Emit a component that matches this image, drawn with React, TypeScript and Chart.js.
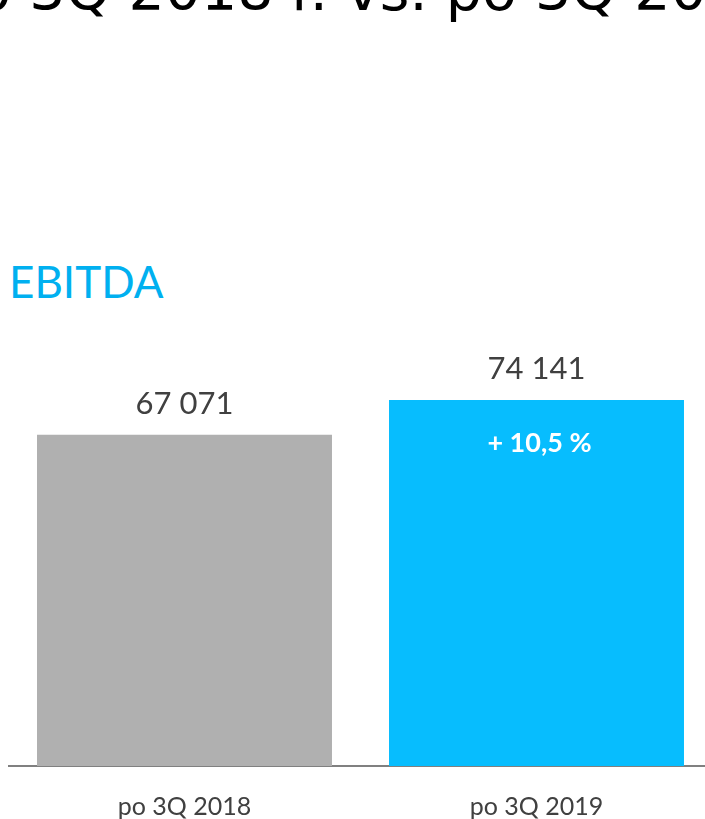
import React, { useEffect, useRef } from 'react';
import { Chart, registerables } from 'chart.js';

Chart.register(...registerables);

const categories = ['po 3Q 2018', 'po 3Q 2019'];
const values = [67071, 74141];
const barColors = ['#B0B0B0', '#07BDFE'];
const changeLabels = ['', '+ 10,5 %'];
const titleText = 'po 3Q 2018 r. vs. po 3Q 2019 r.';
const subtitleText = 'EBITDA';

const fmt = (v: number) => String(v).replace(/\B(?=(\d{3})+(?!\d))/g, ' ');

export default function App() {
  const ref = useRef<HTMLCanvasElement>(null);

  useEffect(() => {
    if (!ref.current) return;
    const labelPlugin = {
      id: 'barLabels',
      afterDatasetsDraw(chart: any) {
        const ctx = chart.ctx;
        const meta = chart.getDatasetMeta(0);
        meta.data.forEach((bar: any, i: number) => {
          ctx.save();
          ctx.textAlign = 'center';
          ctx.textBaseline = 'alphabetic';
          ctx.font = '31px Lato';
          ctx.fillStyle = '#404040';
          ctx.fillText(fmt(values[i]), bar.x, bar.y - 21);
          if (changeLabels[i]) {
            ctx.font = 'bold 27px Lato';
            ctx.fillStyle = '#FFFFFF';
            ctx.fillText(changeLabels[i], bar.x + 3, bar.y + 52);
          }
          ctx.restore();
        });
      },
    };

    const chart = new Chart(ref.current, {
      type: 'bar',
      data: {
        labels: categories,
        datasets: [
          {
            data: values,
            backgroundColor: barColors,
            borderWidth: 0,
            barPercentage: 0.838,
            categoryPercentage: 1,
          },
        ],
      },
      options: {
        responsive: false,
        animation: false,
        devicePixelRatio: 1,
        layout: { padding: { left: 8.5, right: 7.5, top: 371, bottom: 0 } },
        plugins: {
          legend: { display: false },
          tooltip: { enabled: false },
          title: { display: false },
        },
        scales: {
          x: {
            grid: { display: false, drawTicks: false },
            border: { display: true, color: '#808080', width: 2 },
            ticks: {
              color: '#404040',
              font: { family: 'Lato', size: 25 },
              padding: 26,
              maxRotation: 0,
            },
            afterFit: (scale: any) => {
              scale.height = 53;
            },
          },
          y: {
            display: false,
            min: 0,
            max: 80000,
          },
        },
      },
      plugins: [labelPlugin],
    });
    return () => chart.destroy();
  }, []);

  return (
    <div
      style={{
        position: 'fixed',
        top: 0,
        left: 0,
        width: 705,
        height: 819,
        overflow: 'hidden',
        background: '#FFFFFF',
      }}
    >
      <div
        style={{
          position: 'absolute',
          left: -60,
          top: -38,
          fontFamily: 'DejaVu Sans',
          fontSize: 57,
          lineHeight: 1,
          color: '#000000',
          whiteSpace: 'nowrap',
        }}
      >
        {titleText}
      </div>
      <div
        style={{
          position: 'absolute',
          left: 9,
          top: 259,
          fontFamily: 'Lato',
          fontSize: 44,
          lineHeight: 1,
          color: '#00B0F0',
          whiteSpace: 'nowrap',
        }}
      >
        {subtitleText}
      </div>
      <canvas
        ref={ref}
        width={720}
        height={819}
        style={{ position: 'absolute', left: 0, top: 0, width: 720, height: 819 }}
      />
    </div>
  );
}
